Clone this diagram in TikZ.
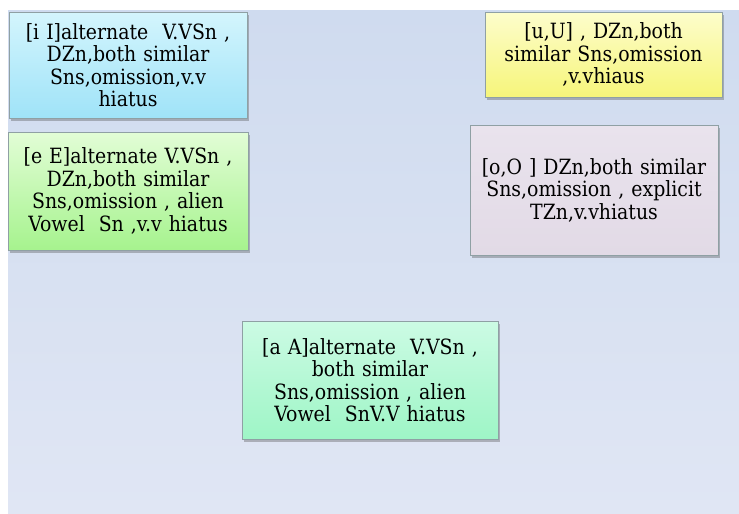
\documentclass[tikz,border=0pt]{standalone}
\usepackage{fontspec}
\setmainfont{DejaVu Serif Condensed}
\usetikzlibrary{shadows}

\definecolor{bgtop}{HTML}{CFDBEF}
\definecolor{bgbot}{HTML}{E0E6F4}
\definecolor{edge}{HTML}{8FA0A4}
\definecolor{itop}{HTML}{D4F5FD}
\definecolor{ibot}{HTML}{9FE3F8}
\definecolor{etop}{HTML}{E2FDD6}
\definecolor{ebot}{HTML}{A6F38E}
\definecolor{utop}{HTML}{FDFDCC}
\definecolor{ubot}{HTML}{F6F57A}
\definecolor{otop}{HTML}{E9E3ED}
\definecolor{obot}{HTML}{E2DAE6}
\definecolor{atop}{HTML}{CCFBE4}
\definecolor{abot}{HTML}{9EF5C6}

\tikzset{
  card/.style={draw=edge, line width=0.8pt, align=center, inner sep=2pt,
    font=\fontsize{21}{22.5}\selectfont,
    drop shadow={shadow xshift=2pt, shadow yshift=-3pt, opacity=0.35, fill=black!70},
    shading=axis, shading angle=0},
}

\begin{document}
\begin{tikzpicture}[x=1pt,y=-1pt]
  \useasboundingbox (0,0) rectangle (739,514);
  % backdrop
  \shade[top color=bgtop, bottom color=bgbot] (8,10) rectangle (739,514);

  \node[card, top color=itop, bottom color=ibot, minimum width=238pt, minimum height=106pt, text width=232pt]
    (iI) at (128,65) {[i I]alternate\ \ V.VSn ,\\ DZn,both similar\\ Sns,omission,v.v\\ hiatus};

  \node[card, top color=etop, bottom color=ebot, minimum width=240pt, minimum height=118pt, text width=234pt]
    (eE) at (128,191) {[e E]alternate V.VSn ,\\ DZn,both similar\\ Sns,omission , alien\\ Vowel\ \ Sn ,v.v hiatus};

  \node[card, top color=utop, bottom color=ubot, minimum width=237pt, minimum height=85pt, text width=231pt]
    (uU) at (603.5,54.5) {[u,U] , DZn,both\\ similar Sns,omission\\ ,v.vhiaus};

  \node[card, top color=otop, bottom color=obot, minimum width=248pt, minimum height=130pt, text width=242pt]
    (oO) at (594,190) {[o,O ] DZn,both similar\\ Sns,omission , explicit\\ TZn,v.vhiatus};

  \node[card, top color=atop, bottom color=abot, minimum width=256pt, minimum height=118pt, text width=250pt]
    (aA) at (370,380) {[a A]alternate\ \ V.VSn ,\\ both similar\\ Sns,omission , alien\\ Vowel\ \ SnV.V hiatus};
\end{tikzpicture}
\end{document}
